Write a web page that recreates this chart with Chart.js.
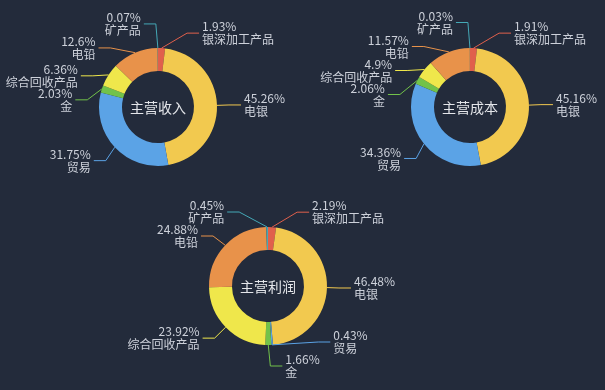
<!DOCTYPE html>
<html lang="zh">
<head>
<meta charset="UTF-8" />
<title>主营构成</title>
<script src="https://cdn.jsdelivr.net/npm/chart.js"></script>
<style>
  body {
    margin: 0;
    background: #232b3b;
  }
  .wrap {
    position: relative;
    width: 605px;
    height: 390px;
  }
  canvas {
    position: absolute;
    left: 0;
    top: 0;
  }
</style>
</head>
<body>
<div class="wrap">
  <canvas id="income" width="605" height="390"></canvas>
  <canvas id="cost" width="605" height="390"></canvas>
  <canvas id="profit" width="605" height="390"></canvas>
</div>
<script>
// 各项业务占比（%）
const categories = ["银深加工产品", "电银", "贸易", "金", "综合回收产品", "电铅", "矿产品"];
const incomeShare = [1.93, 45.26, 31.75, 2.03, 6.36, 12.6, 0.07];
const costShare = [1.91, 45.16, 34.36, 2.06, 4.9, 11.57, 0.03];
const profitShare = [2.19, 46.48, 0.43, 1.66, 23.92, 24.88, 0.45];
const colors = ["#e0604c", "#f2c94f", "#5ba3e6", "#72c24a", "#efe74b", "#e8924a", "#45a9b7"];

const W = 605, H = 390;
const R = 59;            // 外半径
const LEN = 15, LEN2 = 12, LABEL_H = 24;
const TEXT_COLOR = "#cdd1da";
const FONT = '"Noto Sans CJK SC", sans-serif';

// 标签防重叠布局（左右两侧分别处理）
function layoutSide(list, cx, cy, r, dir) {
  list.sort((a, b) => a.y - b.y);
  function shiftUp(end, delta) {
    for (let j = end; j >= 0; j--) {
      if (list[j].y - delta < 0) break;
      list[j].y -= delta;
      if (j > 0 && list[j].y > list[j - 1].y + list[j - 1].height) break;
    }
  }
  function shiftDown(start, end, delta) {
    for (let j = start; j < end; j++) {
      if (list[j].y + delta > H) break;
      list[j].y += delta;
      if (j > start && j + 1 < end && list[j + 1].y > list[j].y + list[j].height) {
        shiftUp(j, delta / 2);
        return;
      }
    }
    shiftUp(end - 1, delta / 2);
  }
  function changeX(arr, isDown) {
    let last = isDown ? Infinity : 0;
    arr.forEach((it) => {
      const dy = Math.abs(it.y - cy);
      let dx = dy < r + it.len
        ? Math.sqrt(Math.pow(r + it.len + it.len2, 2) - dy * dy)
        : Math.abs(it.x - cx);
      if (isDown && dx >= last) dx = last - 10;
      if (!isDown && dx <= last) dx = last + 10;
      it.x = cx + dx * dir;
      last = dx;
    });
  }
  let lastY = 0;
  for (let i = 0; i < list.length; i++) {
    const d = list[i].y - lastY;
    if (d < 0) shiftDown(i, list.length, -d);
    lastY = list[i].y + list[i].height;
  }
  if (H - lastY < 0) shiftUp(list.length - 1, lastY - H);
  changeX(list.filter((it) => it.y < cy), false);
  changeX(list.filter((it) => it.y >= cy), true);
}

const pieLabels = {
  id: "pieLabels",
  afterDraw(chart, args, opts) {
    const ctx = chart.ctx;
    const meta = chart.getDatasetMeta(0);
    const ds = chart.data.datasets[0];
    const cx = meta.data[0].x, cy = meta.data[0].y;
    const items = [];
    meta.data.forEach((arc, i) => {
      const mid = (arc.startAngle + arc.endAngle) / 2;
      const dx = Math.cos(mid), dy = Math.sin(mid);
      const r = arc.outerRadius;
      const x1 = cx + r * dx, y1 = cy + r * dy;
      const x2 = x1 + dx * LEN, y2 = y1 + dy * LEN;
      const side = dx < 0 ? -1 : 1;
      const x3 = x2 + side * LEN2;
      items.push({
        x1: x1, y1: y1, x: x3 + side * 5, y: y2,
        len: LEN, len2: LEN2, height: LABEL_H, dist: x2 - x3,
        color: ds.backgroundColor[i],
        lines: [+ds.data[i].toFixed(2) + "%", chart.data.labels[i]],
      });
    });
    const r = meta.data[0].outerRadius;
    layoutSide(items.filter((it) => it.x < cx), cx, cy, r, -1);
    layoutSide(items.filter((it) => it.x >= cx), cx, cy, r, 1);

    ctx.save();
    items.forEach((it) => {
      const left = it.x < cx;
      const p2x = left ? it.x + 3 : it.x - 3;
      const p1x = p2x + it.dist;
      ctx.strokeStyle = it.color;
      ctx.lineWidth = 1;
      ctx.beginPath();
      ctx.moveTo(it.x1, it.y1);
      ctx.lineTo(p1x, it.y);
      ctx.lineTo(p2x, it.y);
      ctx.stroke();
      ctx.fillStyle = TEXT_COLOR;
      ctx.font = "12px " + FONT;
      ctx.textAlign = left ? "right" : "left";
      ctx.textBaseline = "middle";
      ctx.fillText(it.lines[0], it.x, it.y - 6.5);
      ctx.fillText(it.lines[1], it.x, it.y + 6.5);
    });
    // 中心标题
    ctx.fillStyle = "#e4e6ea";
    ctx.font = "14px " + FONT;
    ctx.textAlign = "center";
    ctx.textBaseline = "middle";
    ctx.fillText(opts.title, cx, cy + 1);
    ctx.restore();
  },
};

function makePie(id, title, values, cx, cy) {
  new Chart(document.getElementById(id), {
    type: "doughnut",
    data: {
      labels: categories,
      datasets: [{
        data: values,
        backgroundColor: colors,
        borderWidth: 0,
      }],
    },
    options: {
      responsive: false,
      animation: false,
      cutout: "61%",
      layout: {
        padding: { left: cx - R, right: W - cx - R, top: cy - R, bottom: H - cy - R },
      },
      plugins: {
        legend: { display: false },
        tooltip: { enabled: false },
        pieLabels: { title: title },
      },
    },
    plugins: [pieLabels],
  });
}

makePie("income", "主营收入", incomeShare, 158, 107);
makePie("cost", "主营成本", costShare, 470, 107);
makePie("profit", "主营利润", profitShare, 268, 286);
</script>
</body>
</html>
